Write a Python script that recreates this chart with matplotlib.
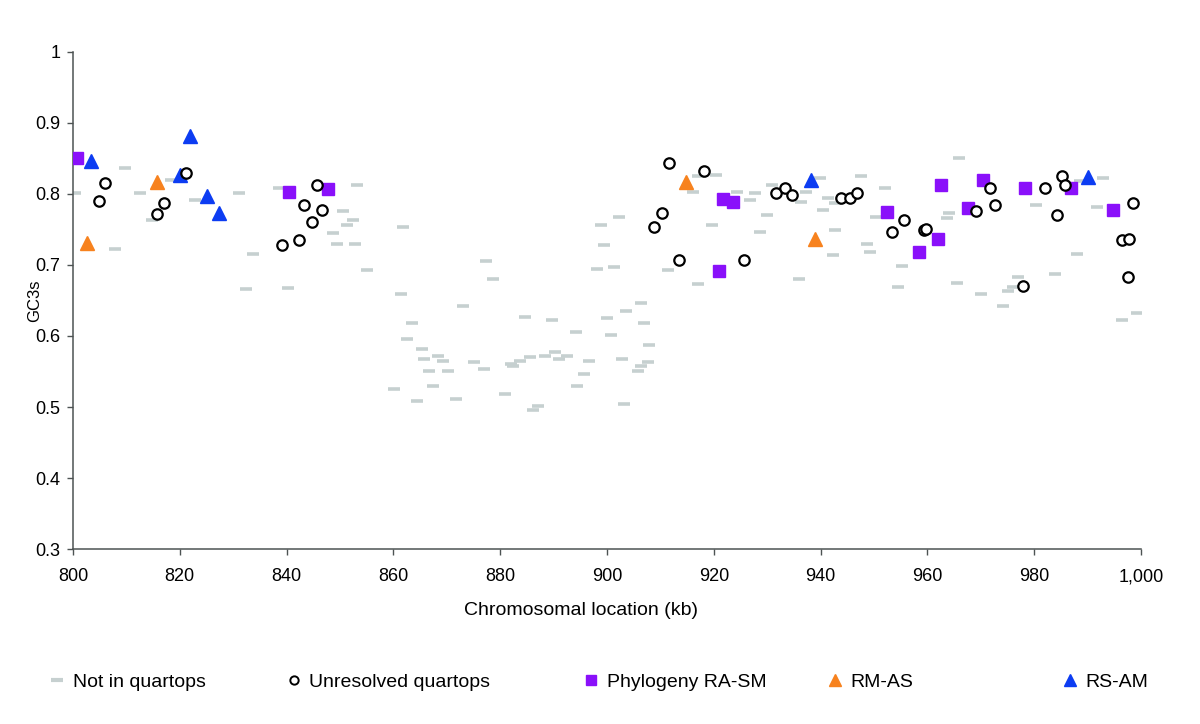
import matplotlib
matplotlib.use('Agg')
import matplotlib.pyplot as plt
from matplotlib.lines import Line2D
from matplotlib.ticker import FuncFormatter, MultipleLocator

plt.rcParams['font.family'] = ['Liberation Sans', 'DejaVu Sans']

# ── data (kb, GC3s) ────────────────────────────────────────────────────
not_in_x = [800.4, 809.7, 812.5, 807.9, 814.8, 818.3, 822.8, 831.0, 833.7, 832.4,
            838.6, 840.3, 850.6, 852.4, 851.3, 848.7, 849.4, 852.8, 853.2, 855.1,
            861.8, 861.4, 877.3, 878.6, 873.0, 863.5, 862.5, 865.4, 865.7, 868.3,
            869.3, 866.7, 870.2, 867.4, 860.1, 864.4, 871.7, 875.1, 876.9, 880.9,
            882.0, 882.4, 883.7, 885.6, 884.6, 889.7, 888.4, 890.3, 891.0, 892.5,
            887.1, 886.1, 894.2, 896.6, 895.7, 894.4, 898.1, 901.3, 899.4, 898.9,
            902.2, 900.0, 903.6, 900.7, 906.4, 906.9, 907.9, 902.8, 907.7, 906.4,
            905.8, 903.2, 917.0, 920.4, 916.1, 924.3, 927.7, 926.8, 930.9, 930.0,
            919.7, 928.7, 911.4, 917.0, 937.3, 936.3, 939.9, 940.4, 941.4, 942.7,
            942.7, 942.3, 936.0, 947.6, 952.1, 950.4, 948.7, 949.3, 955.2, 954.5,
            964.0, 963.7, 965.9, 965.5, 970.0, 974.2, 975.1, 977.0, 976.0, 980.3,
            983.9, 988.0, 991.8, 992.9, 988.6, 999.3, 996.4]
not_in_y = [0.802, 0.837, 0.802, 0.722, 0.763, 0.820, 0.792, 0.802, 0.715, 0.666,
            0.809, 0.668, 0.776, 0.764, 0.757, 0.745, 0.730, 0.730, 0.812, 0.693,
            0.754, 0.659, 0.706, 0.680, 0.642, 0.618, 0.596, 0.582, 0.568, 0.572,
            0.565, 0.551, 0.551, 0.530, 0.526, 0.508, 0.511, 0.564, 0.554, 0.518,
            0.561, 0.558, 0.565, 0.571, 0.627, 0.623, 0.572, 0.578, 0.568, 0.572,
            0.501, 0.496, 0.606, 0.565, 0.547, 0.530, 0.694, 0.697, 0.728, 0.756,
            0.768, 0.625, 0.635, 0.602, 0.647, 0.618, 0.588, 0.568, 0.564, 0.558,
            0.551, 0.504, 0.826, 0.827, 0.803, 0.803, 0.802, 0.792, 0.812, 0.771,
            0.756, 0.747, 0.693, 0.673, 0.803, 0.789, 0.823, 0.778, 0.795, 0.788,
            0.749, 0.714, 0.680, 0.826, 0.809, 0.768, 0.730, 0.718, 0.698, 0.669,
            0.773, 0.766, 0.851, 0.675, 0.659, 0.642, 0.663, 0.683, 0.669, 0.785,
            0.687, 0.715, 0.782, 0.823, 0.818, 0.633, 0.622]

unres_x = [806.0, 804.9, 815.7, 817.0, 821.2, 839.1, 842.3, 843.3, 844.8, 845.7,
           846.6, 911.6, 918.2, 910.3, 908.8, 913.5, 925.7, 931.6, 933.3, 934.6,
           943.9, 945.5, 946.8, 955.6, 953.4, 959.4, 959.8, 969.1, 971.7, 972.7,
           977.9, 982.0, 984.3, 985.2, 985.8, 998.5, 996.4, 997.8, 997.6]
unres_y = [0.816, 0.790, 0.772, 0.787, 0.830, 0.728, 0.735, 0.785, 0.761, 0.813,
           0.778, 0.844, 0.833, 0.773, 0.754, 0.707, 0.707, 0.802, 0.809, 0.799,
           0.795, 0.795, 0.802, 0.764, 0.746, 0.749, 0.751, 0.776, 0.809, 0.785,
           0.670, 0.809, 0.771, 0.826, 0.812, 0.788, 0.735, 0.737, 0.683]

rasm_x = [800.7, 840.4, 847.8, 921.7, 923.6, 921.0, 952.4, 958.4, 962.0, 962.5,
          967.6, 970.4, 978.3, 986.9, 994.8]
rasm_y = [0.850, 0.803, 0.807, 0.793, 0.789, 0.691, 0.775, 0.718, 0.737, 0.813,
          0.780, 0.819, 0.809, 0.809, 0.778]

rmas_x = [802.7, 815.7, 914.8, 939.0]
rmas_y = [0.731, 0.817, 0.817, 0.737]

rsam_x = [803.4, 821.9, 820.1, 825.1, 827.3, 938.2, 990.1]
rsam_y = [0.846, 0.881, 0.827, 0.797, 0.773, 0.819, 0.824]

GREY = '#c6d0d0'
PURPLE = '#8a10fa'
ORANGE = '#f7821e'
BLUE = '#0c3cf2'
AXC = '#4d5353'

fig = plt.figure(figsize=(12, 7.24), dpi=100)
ax = fig.add_axes([0.0608, 0.2417, 0.8900, 0.6865])

ax.plot(not_in_x, not_in_y, ls='none', marker='_', ms=9, mew=2.6, color=GREY, zorder=2)
ax.plot(rasm_x, rasm_y, ls='none', marker='s', ms=8.5, color=PURPLE, mec=PURPLE, zorder=3)
ax.plot(rmas_x, rmas_y, ls='none', marker='^', ms=10, color=ORANGE, mec=ORANGE, zorder=3)
ax.plot(rsam_x, rsam_y, ls='none', marker='^', ms=10, color=BLUE, mec=BLUE, zorder=3)
ax.plot(unres_x, unres_y, ls='none', marker='o', ms=7.5, mfc='white', mec='black',
        mew=1.6, zorder=4)

ax.set_xlim(800, 1000)
ax.set_ylim(0.3, 1.0)
ax.xaxis.set_major_locator(MultipleLocator(20))
ax.yaxis.set_major_locator(MultipleLocator(0.1))
ax.xaxis.set_major_formatter(FuncFormatter(lambda v, p: f'{v:,.0f}'))
ax.yaxis.set_major_formatter(FuncFormatter(lambda v, p: f'{v:g}'))

for s in ['top', 'right']:
    ax.spines[s].set_visible(False)
for s in ['left', 'bottom']:
    ax.spines[s].set_color(AXC)
    ax.spines[s].set_linewidth(1.1)
ax.tick_params(direction='out', length=4, width=1, color=AXC, labelsize=13)
ax.tick_params(axis='x', pad=10)
ax.tick_params(axis='y', pad=5)
ax.set_xlabel('Chromosomal location (kb)', fontsize=14)
ax.set_ylabel('GC3s', fontsize=12)
ax.xaxis.set_label_coords(0.476, -0.106)
ax.yaxis.set_label_coords(-0.029, 0.5)

# ── legend, spread along the bottom like the original ───────────────────
handles = [
    Line2D([], [], ls='none', marker='_', ms=9, mew=3, color=GREY),
    Line2D([], [], ls='none', marker='o', ms=6, mfc='white', mec='black', mew=1.4),
    Line2D([], [], ls='none', marker='s', ms=7, color=PURPLE),
    Line2D([], [], ls='none', marker='^', ms=8, color=ORANGE),
    Line2D([], [], ls='none', marker='^', ms=8, color=BLUE),
]
labels = ['Not in quartops', 'Unresolved quartops', 'Phylogeny RA-SM', 'RM-AS', 'RS-AM']
leg_x = [0.033, 0.230, 0.478, 0.681, 0.877]
for h, lab, x in zip(handles, labels, leg_x):
    fig.legend(handles=[h], labels=[lab], loc='center left',
               bbox_to_anchor=(x, 0.058), frameon=False, fontsize=14,
               handlelength=0.8, handletextpad=0.4, borderpad=0)

fig.savefig('out.png', dpi=100)
